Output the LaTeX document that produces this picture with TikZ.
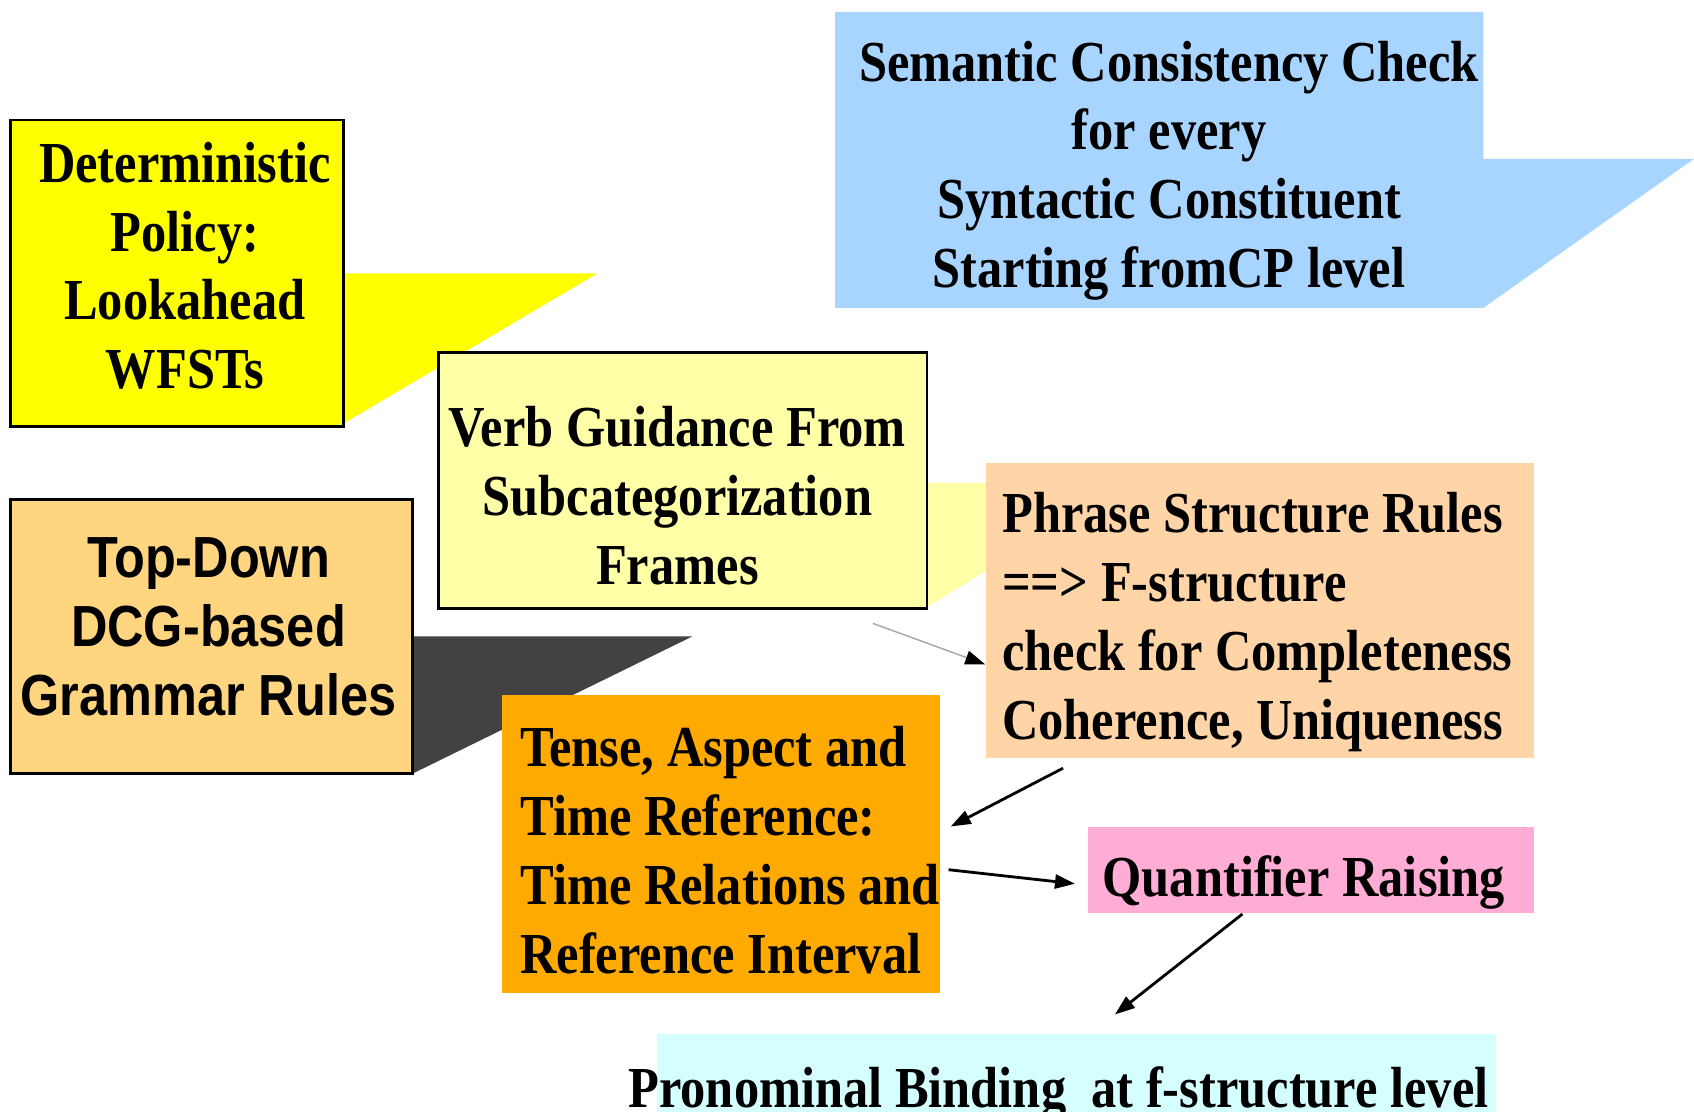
\documentclass[tikz,border=0pt]{standalone}
\usepackage{fontspec}
\setmainfont{Liberation Serif}[FakeStretch=0.87]
\setsansfont{Liberation Sans}[FakeStretch=0.87]
\usetikzlibrary{arrows.meta}
\definecolor{policyyellow}{HTML}{FFFF00}
\definecolor{semblue}{HTML}{A8D5FF}
\definecolor{verbyellow}{HTML}{FFFFA8}
\definecolor{grammartan}{HTML}{FFD580}
\definecolor{darktail}{HTML}{424242}
\definecolor{phrasepeach}{HTML}{FFD5A8}
\definecolor{tenseorange}{HTML}{FFAA00}
\definecolor{quantpink}{HTML}{FFADD5}
\definecolor{bindcyan}{HTML}{D5FFFF}
\begin{document}
\begin{tikzpicture}[x=0.010804cm,y=-0.010804cm,
  txt/.style={font=\fontsize{16.5}{19.6}\selectfont\bfseries, inner sep=0pt, align=center},
  arr/.style={line width=0.8pt, -{Triangle[length=2mm,width=1.4mm]}}]
\useasboundingbox (0,0) rectangle (1568,1029);

% yellow callout
\fill[policyyellow] (318,253) -- (553,253) -- (318,392) -- cycle;
\draw[line width=0.8pt,fill=policyyellow] (10,111) rectangle (318,395);
\node[txt] (policy) at (171,246) {Deterministic\\Policy:\\Lookahead\\WFSTs};

% blue callout
\fill[semblue] (773,11) -- (1373,11) -- (1373,147) -- (1568,147) -- (1373,285) -- (773,285) -- cycle;
\node[txt] (semantic) at (1082,158) {Semantic Consistency Check\\for every\\Syntactic Constituent\\Starting fromCP level};

% grammar callout
\fill[darktail] (382,589) -- (641,589) -- (382,716) -- cycle;
\draw[line width=0.8pt,fill=grammartan] (10,462) rectangle (382,716);
\node[txt,font=\fontsize{16.5}{19.6}\selectfont\sffamily\bfseries] (grammar) at (193,580) {Top-Down\\DCG-based\\Grammar Rules};

% verb callout
\fill[verbyellow] (858,447) -- (1045,447) -- (858,562) -- cycle;
\draw[line width=0.8pt,fill=verbyellow] (406,326) rectangle (858,563);
\node[txt] (verb) at (627,459) {Verb Guidance From\\Subcategorization\\Frames};

% plain boxes
\fill[phrasepeach] (913,429) rectangle (1420,702);
\node[txt,align=left,anchor=west] (phrase) at (927,576) {Phrase Structure Rules\\==> F-structure\\check for Completeness\\Coherence, Uniqueness};

\fill[tenseorange] (465,643) rectangle (870,919);
\node[txt,align=left,anchor=west] (tense) at (481,787) {Tense, Aspect and\\Time Reference:\\Time Relations and\\Reference Interval};

\fill[quantpink] (1007,765) rectangle (1420,845);
\node[txt,anchor=base west] (quant) at (1020,830) {Quantifier Raising};

\fill[bindcyan] (608,957) rectangle (1385,1040);
\node[txt,anchor=base west] (binding) at (581,1025) {Pronominal Binding\ \ at f-structure level};

% arrows
\coordinate (verbout) at (808,577);
\coordinate (phrasein) at (912,615);
\coordinate (phraseout) at (984,711);
\coordinate (tensein) at (880,765);
\coordinate (tenseout) at (878,805);
\coordinate (quantin) at (995,818);
\coordinate (quantout) at (1150,846);
\coordinate (bindin) at (1032,939);

\draw[line width=0.4pt,black!35,-{Triangle[length=2mm,width=1.4mm,black]}] (verbout) -- (phrasein);
\draw[arr] (phraseout) -- (tensein);
\draw[arr] (tenseout) -- (quantin);
\draw[arr] (quantout) -- (bindin);
\end{tikzpicture}
\end{document}
